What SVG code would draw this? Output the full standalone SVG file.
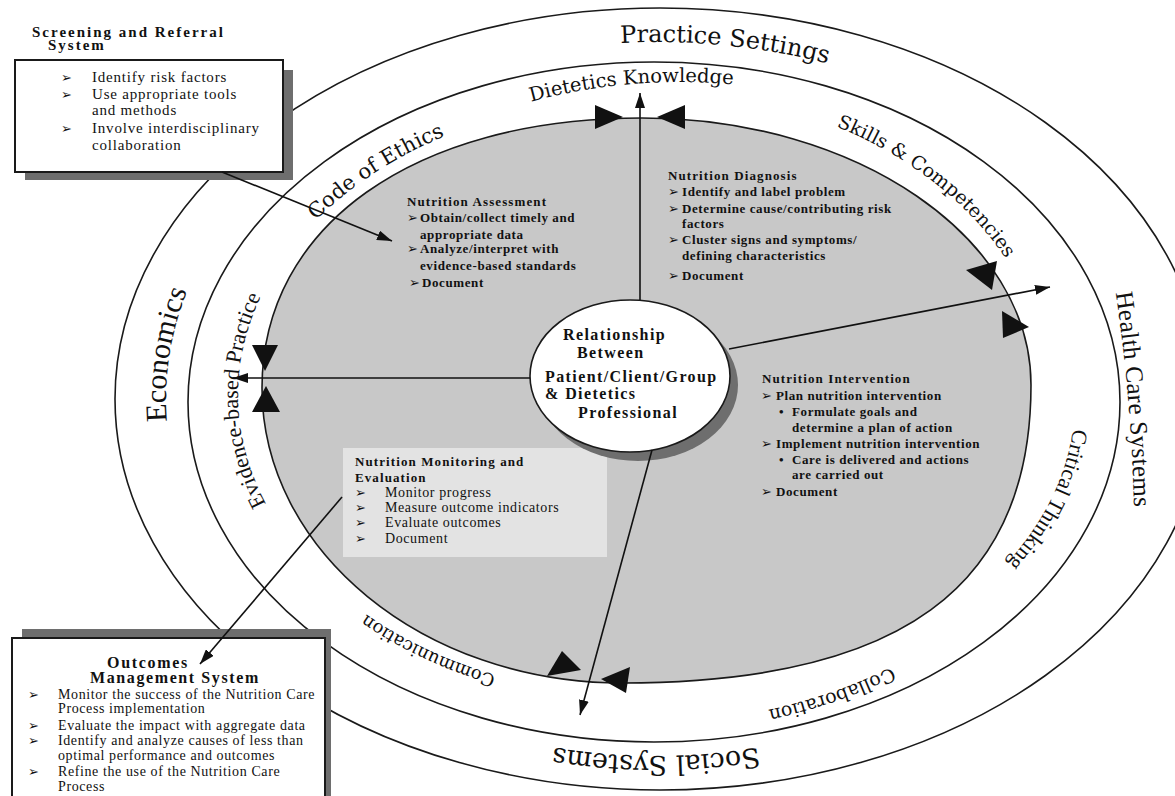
<svg xmlns="http://www.w3.org/2000/svg" width="1175" height="796" viewBox="0 0 1175 796">
<defs>
<style>
.ring{fill:none;stroke:#1a1a1a;stroke-width:1.6}
.lbl{font-family:"Liberation Serif","Times New Roman",serif;fill:#111}
.lbw{font-family:"DejaVu Serif","Liberation Serif",serif;fill:#111}
.hb{font-family:"Liberation Serif","Times New Roman",serif;font-size:13px;font-weight:bold;letter-spacing:0.6px;fill:#111}
.tt{font-family:"Liberation Serif","Times New Roman",serif;font-size:13px;font-weight:bold;letter-spacing:1.1px;fill:#111}
.bx{font-family:"Liberation Serif","Times New Roman",serif;font-size:14px;letter-spacing:0.6px;fill:#111}
.sc{font-family:"Liberation Serif","Times New Roman",serif;font-size:15px;letter-spacing:0.8px;fill:#111}
.ar{font-family:"DejaVu Sans",sans-serif;font-size:13px;font-weight:bold;fill:#111}
.ctr{font-family:"Liberation Serif","Times New Roman",serif;font-size:16px;font-weight:bold;letter-spacing:1.4px;fill:#111}
.con{stroke:#111;stroke-width:1.6;fill:none;marker-end:url(#ah)}
.tri{fill:#111}
</style>
<marker id="ah" viewBox="0 0 15 10" refX="15" refY="5" markerWidth="15" markerHeight="10" markerUnits="userSpaceOnUse" orient="auto"><path d="M0,0 L15,5 L0,10 z" fill="#111"/></marker>
<path id="pPS" d="M 528.9 54 A 520 388 0 0 1 915.2 93.2"/>
<path id="pDK" d="M 486.9 115.9 A 430 318 0 0 1 779.1 90.6"/>
<path id="pSC" d="M 786.8 109.6 A 400 309 0 0 1 1030.4 304.5"/>
<path id="pCE" d="M 275 270.1 A 420 305 0 0 1 505.9 114.9"/>
<path id="pEB" d="M 304.5 558.4 A 412 300 0 0 1 296.8 240.5"/>
<path id="pEC" d="M 179.6 485.8 A 494 372 0 0 1 217.9 233"/>
<path id="pHC" d="M 1115 288 Q 1132 400 1134 512"/>
<path id="pCT" d="M 1072.1 365 A 425 300 0 0 1 959.3 605.7"/>
<path id="pSS" d="M 854.6 722.6 A 470 356 0 0 1 457.4 722.6"/>
<path id="pCO" d="M 957.6 626.1 A 432 322 0 0 1 690.7 720.6"/>
<path id="pCM" d="M 585.9 693.3 A 410 297 0 0 1 298.5 553"/>
</defs>
<rect width="1175" height="796" fill="#fff"/>

<g id="rings">
<ellipse class="ring" cx="660" cy="399" rx="545" ry="391"/>
<ellipse class="ring" cx="654" cy="402" rx="466" ry="340"/>
<path id="process-area" d="M 262 388 C 262 226 414 118 642 118 C 856.7 118 1031 237.6 1031 385 C 1031 587.6 900.1 683 622 683 C 423.3 683 262 550.8 262 388 Z" fill="#c8c8c8" stroke="#1a1a1a" stroke-width="1.6"/>
</g>

<g id="ring-labels">
<text class="lbw" font-size="24"><textPath href="#pPS" startOffset="50%" text-anchor="middle">Practice Settings</textPath></text>
<text class="lbw" font-size="19.5"><textPath href="#pDK" startOffset="50%" text-anchor="middle">Dietetics Knowledge</textPath></text>
<text class="lbw" font-size="19"><textPath href="#pSC" startOffset="50%" text-anchor="middle">Skills &amp; Competencies</textPath></text>
<text class="lbw" font-size="21"><textPath href="#pCE" startOffset="50%" text-anchor="middle">Code of Ethics</textPath></text>
<text class="lbl" font-size="22"><textPath href="#pEB" startOffset="50%" text-anchor="middle">Evidence-based Practice</textPath></text>
<text class="lbl" font-size="30"><textPath href="#pEC" startOffset="50%" text-anchor="middle">Economics</textPath></text>
<text class="lbl" font-size="25" letter-spacing="0.3"><textPath href="#pHC" startOffset="50%" text-anchor="middle">Health Care Systems</textPath></text>
<text class="lbl" font-size="22"><textPath href="#pCT" startOffset="50%" text-anchor="middle">Critical Thinking</textPath></text>
<text class="lbw" font-size="27"><textPath href="#pSS" startOffset="50%" text-anchor="middle">Social Systems</textPath></text>
<text class="lbw" font-size="19"><textPath href="#pCO" startOffset="50%" text-anchor="middle">Collaboration</textPath></text>
<text class="lbw" font-size="18"><textPath href="#pCM" startOffset="50%" text-anchor="middle">Communication</textPath></text>
</g>

<g id="nutrition-assessment">
<text class="tt" x="407" y="206">Nutrition Assessment</text>
<text class="ar" x="407" y="222">➢</text><text class="hb" x="420" y="222">Obtain/collect timely and</text>
<text class="hb" x="420" y="239">appropriate data</text>
<text class="ar" x="407" y="253">➢</text><text class="hb" x="420" y="253">Analyze/interpret with</text>
<text class="hb" x="420" y="270">evidence-based standards</text>
<text class="ar" x="409" y="287">➢</text><text class="hb" x="422" y="287">Document</text>
</g>

<g id="nutrition-diagnosis">
<text class="tt" x="668" y="180">Nutrition Diagnosis</text>
<text class="ar" x="668" y="196">➢</text><text class="hb" x="682" y="196">Identify  and label problem</text>
<text class="ar" x="668" y="213">➢</text><text class="hb" x="682" y="213">Determine cause/contributing risk</text>
<text class="hb" x="682" y="228">factors</text>
<text class="ar" x="668" y="244">➢</text><text class="hb" x="682" y="244">Cluster signs and symptoms/</text>
<text class="hb" x="682" y="260">defining characteristics</text>
<text class="ar" x="668" y="280">➢</text><text class="hb" x="682" y="280">Document</text>
</g>

<g id="nutrition-intervention">
<text class="tt" x="762" y="383">Nutrition Intervention</text>
<text class="ar" x="761" y="400">➢</text><text class="hb" x="776" y="400">Plan nutrition intervention</text>
<text class="hb" x="779" y="416">•</text><text class="hb" x="792" y="416">Formulate goals and</text>
<text class="hb" x="792" y="432">determine a plan of action</text>
<text class="ar" x="761" y="448">➢</text><text class="hb" x="776" y="448">Implement nutrition intervention</text>
<text class="hb" x="779" y="464">•</text><text class="hb" x="792" y="464">Care is delivered and actions</text>
<text class="hb" x="792" y="479">are carried out</text>
<text class="ar" x="761" y="496">➢</text><text class="hb" x="776" y="496">Document</text>
</g>

<g id="nutrition-monitoring">
<rect x="343" y="448" width="264" height="109" fill="#e3e3e3"/>
<text class="tt" x="355" y="466">Nutrition Monitoring and</text>
<text class="tt" x="355" y="482">Evaluation</text>
<text class="ar" x="355" y="497">➢</text><text class="bx" x="385" y="497">Monitor progress</text>
<text class="ar" x="355" y="512">➢</text><text class="bx" x="385" y="512">Measure outcome indicators</text>
<text class="ar" x="355" y="527">➢</text><text class="bx" x="385" y="527">Evaluate outcomes</text>
<text class="ar" x="355" y="543">➢</text><text class="bx" x="385" y="543">Document</text>
</g>

<g id="center-relationship">
<ellipse cx="638" cy="385" rx="100" ry="76" fill="#6e6e6e"/>
<ellipse cx="630" cy="376" rx="100" ry="76" fill="#fff" stroke="#1a1a1a" stroke-width="1.6"/>
<text class="ctr" x="563" y="340">Relationship</text>
<text class="ctr" x="577" y="358">Between</text>
<text class="ctr" x="545" y="382">Patient/Client/Group</text>
<text class="ctr" x="545" y="399">&amp; Dietetics</text>
<text class="ctr" x="578" y="418">Professional</text>
</g>

<g id="screening-box">
<rect x="25" y="70" width="268" height="110" fill="#6e6e6e"/>
<rect x="15" y="60" width="268" height="112" fill="#fff" stroke="#1a1a1a" stroke-width="2"/>
<text class="lbl" font-size="15" font-weight="bold" letter-spacing="2" x="32" y="37">Screening and Referral</text>
<text class="lbl" font-size="15" font-weight="bold" letter-spacing="2" x="48" y="50">System</text>
<text class="ar" font-size="14" x="61" y="82">➢</text><text class="sc" x="92" y="82">Identify risk factors</text>
<text class="ar" font-size="14" x="61" y="99">➢</text><text class="sc" x="92" y="99">Use appropriate tools</text>
<text class="sc" x="92" y="115">and methods</text>
<text class="ar" font-size="14" x="61" y="133">➢</text><text class="sc" x="92" y="133">Involve interdisciplinary</text>
<text class="sc" x="92" y="150">collaboration</text>
</g>

<g id="outcomes-box">
<rect x="22" y="629" width="309" height="180" fill="#6e6e6e"/>
<rect x="12" y="638" width="313" height="170" fill="#fff" stroke="#1a1a1a" stroke-width="2"/>
<text class="lbl" font-size="16" font-weight="bold" letter-spacing="1.7" x="107" y="668">Outcomes</text>
<text class="lbl" font-size="16" font-weight="bold" letter-spacing="1.6" x="90" y="683">Management System</text>
<text class="ar" font-size="13" x="28" y="699">➢</text><text class="bx" x="58" y="699">Monitor the success of the Nutrition Care</text>
<text class="bx" x="58" y="713">Process implementation</text>
<text class="ar" font-size="13" x="28" y="730">➢</text><text class="bx" x="58" y="730">Evaluate the impact with aggregate data</text>
<text class="ar" font-size="13" x="28" y="745">➢</text><text class="bx" x="58" y="745">Identify and analyze causes of less than</text>
<text class="bx" x="58" y="760">optimal performance and outcomes</text>
<text class="ar" font-size="13" x="28" y="776">➢</text><text class="bx" x="58" y="776">Refine the use of the Nutrition Care</text>
<text class="bx" x="58" y="791">Process</text>
</g>

<g id="connectors">
<line class="con" x1="640" y1="300" x2="640" y2="93"/>
<line class="con" x1="530" y1="378" x2="233" y2="378"/>
<line class="con" x1="729" y1="349" x2="1050" y2="287"/>
<line class="con" x1="652" y1="450" x2="580" y2="715"/>
<line class="con" x1="222" y1="172" x2="392" y2="241"/>
<line class="con" x1="342" y1="497" x2="200" y2="664"/>
</g>

<g id="markers-triangles">
<polygon class="tri" points="595,105 595,129 623,117"/>
<polygon class="tri" points="685,105 685,129 657,117"/>
<polygon class="tri" points="252,345 278,345 265,371"/>
<polygon class="tri" points="252,412 280,412 266,386"/>
<polygon class="tri" points="966,270 997,261 992,290"/>
<polygon class="tri" points="1002,311 1029,327 1003,338"/>
<polygon class="tri" points="547,676 562,651 581,670"/>
<polygon class="tri" points="601,679 630,667 626,693"/>
</g>
</svg>
